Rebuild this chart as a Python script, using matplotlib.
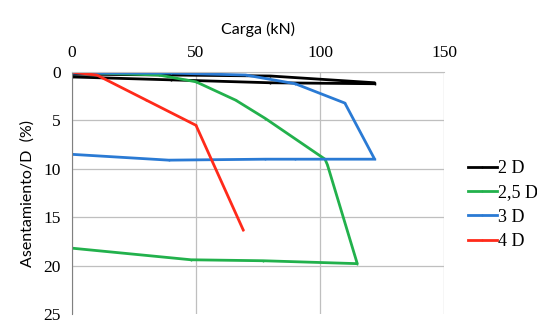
import matplotlib
matplotlib.use("Agg")
import matplotlib.pyplot as plt

# carga (kN) vs asentamiento/D (%)
carga_2d = [0, 40, 80, 122, 122, 80, 40, 0]
asent_2d = [0.2, 0.3, 0.4, 1.1, 1.2, 1.1, 0.8, 0.5]

carga_25d = [0, 10, 35, 50, 66, 78, 102, 103, 115, 77, 48, 0]
asent_25d = [0.0, 0.1, 0.3, 1.0, 2.9, 4.8, 9.0, 9.6, 19.8, 19.5, 19.4, 18.2]

carga_3d = [0, 10, 40, 70, 90, 110, 122, 90, 78, 39, 0]
asent_3d = [0.1, 0.1, 0.1, 0.3, 1.2, 3.2, 9.0, 9.0, 9.0, 9.1, 8.5]

carga_4d = [0, 10, 30, 50, 69]
asent_4d = [0.0, 0.3, 2.9, 5.5, 16.3]

labels = ["2 D", "2,5 D", "3 D", "4 D"]
colors = ["#000000", "#22b14c", "#2a7ad4", "#ff2a1a"]
xticks = [0, 50, 100, 150]
yticks = [0, 5, 10, 15, 20, 25]

fig = plt.figure(figsize=(5.37, 3.22), dpi=100)
ax = fig.add_axes([0.134, 0.025, 0.693, 0.751])

series = [(carga_2d, asent_2d), (carga_25d, asent_25d),
          (carga_3d, asent_3d), (carga_4d, asent_4d)]
for (x, y), lab, c in zip(series, labels, colors):
    ax.plot(x, y, color=c, lw=2, marker='|', markersize=2, label=lab)

ax.set_xlim(0, 150)
ax.set_ylim(25, 0)
ax.set_xticks(xticks)
ax.set_yticks(yticks)
ax.xaxis.tick_top()
ax.xaxis.set_label_position('top')
ax.tick_params(length=0, labelsize=12.5, pad=8)
for t in ax.get_xticklabels() + ax.get_yticklabels():
    t.set_fontfamily('Liberation Serif')

ax.grid(True, color='#bfbfbf', lw=0.9)
ax.yaxis.get_gridlines()[-1].set_visible(False)
ax.set_axisbelow(True)
for s in ['right', 'bottom']:
    ax.spines[s].set_visible(False)
ax.spines['left'].set_color('#808080')
ax.spines['top'].set_color('#bfbfbf')

ax.set_xlabel('Carga (kN)', fontsize=11.5, family='Lato', labelpad=8)
ax.set_ylabel('Asentamiento/D  (%)', fontsize=11.5, family='Lato', labelpad=6)

leg = ax.legend(loc='center left', bbox_to_anchor=(1.02, 0.45), frameon=False,
                prop={'family': 'Liberation Serif', 'size': 13},
                handlelength=1.6, handletextpad=0.1, labelspacing=0.4)

fig.savefig('out.png', dpi=100)
